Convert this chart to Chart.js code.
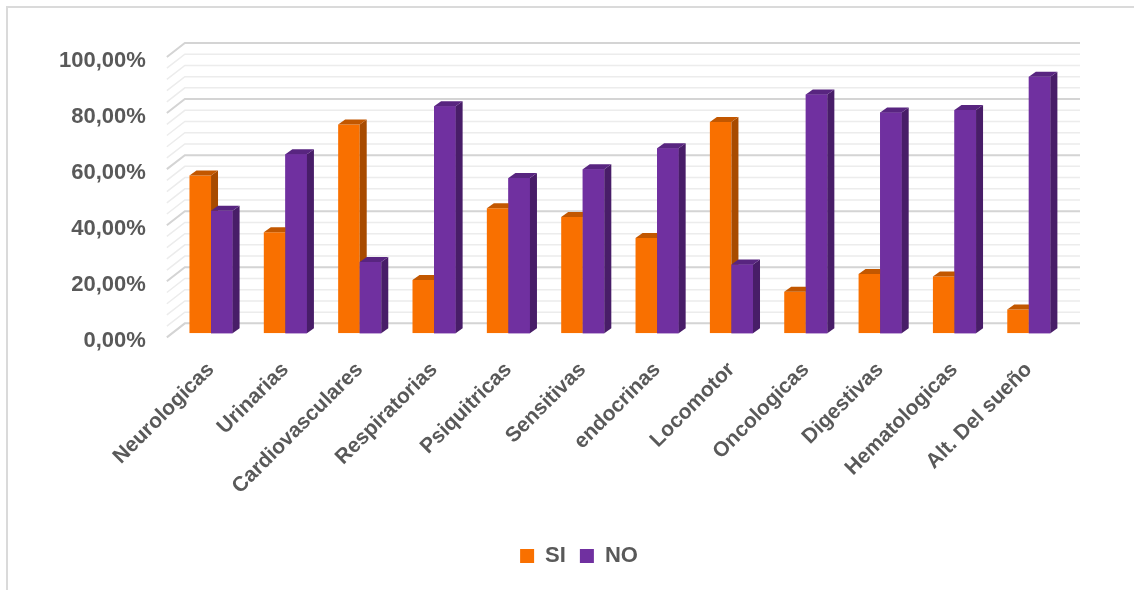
<!DOCTYPE html>
<html>
<head>
<meta charset="utf-8">
<script src="https://cdn.jsdelivr.net/npm/chart.js@4.4.1/dist/chart.umd.min.js"></script>
<style>
  html, body { margin: 0; padding: 0; background: #fff; }
  #wrap { position: relative; width: 1134px; height: 590px; }
  #frame {
    position: absolute; left: 6px; top: 6px; right: 0; bottom: 0;
    border-left: 2px solid #dadada; border-top: 2px solid #dadada;
    pointer-events: none;
  }
</style>
</head>
<body>
<div id="wrap">
  <canvas id="chart" width="1134" height="590"></canvas>
  <div id="frame"></div>
</div>
<script>
var categories = ["Neurologicas", "Urinarias", "Cardiovasculares", "Respiratorias", "Psiquitricas",
    "Sensitivas", "endocrinas", "Locomotor", "Oncologicas", "Digestivas", "Hematologicas", "Alt. Del sueño"];
var siValues = [56.3, 36.1, 74.5, 19.0, 44.6, 41.5, 34.0, 75.4, 14.8, 21.2, 20.3, 8.5];
var noValues = [43.7, 63.9, 25.5, 81.0, 55.4, 58.5, 66.0, 24.6, 85.2, 78.8, 79.7, 91.5];
var seriesNames = ["SI", "NO"];
var yMax = 100;
var majorStep = 20;
var minorStep = 4;

var textColor = "#595959";
var fontFamily = "Arial, 'Liberation Sans', sans-serif";

// front / side / top colours of each column
var faces = [
    { front: "#F97000", side: "#A84B00", top: "#C25700" },
    { front: "#7030A0", side: "#481D68", top: "#582580" }
];

// depth offsets for the fake 3D look
var barDepth = { dx: 7, dy: -5 };
var wallDepth = { dx: 18, dy: -14 };
var floorGap = 4; // bars sit a little behind the front edge of the floor
var legendCenterX = 579;

function pct(v) {
    return v.toFixed(2).replace(".", ",") + "%";
}

var excel3d = {
    id: "excel3d",
    afterLayout: function (chart) {
        // legend sits centred under the whole frame, not under the plot
        var lg = chart.legend;
        var shift = legendCenterX - (lg.left + lg.right) / 2;
        lg.left += shift;
        lg.right += shift;
    },
    beforeDatasetsDraw: function (chart) {
        var ctx = chart.ctx, y = chart.scales.y, area = chart.chartArea;
        var frontX = area.left - 7;
        var backX = frontX + wallDepth.dx;
        var backRight = area.right + 14;
        ctx.save();
        for (var v = 0; v <= yMax; v += minorStep) {
            var py = y.getPixelForValue(v) + floorGap;
            var major = v % majorStep === 0;
            ctx.strokeStyle = major ? "#d4d4d4" : "#ececec";
            ctx.lineWidth = major ? 2 : 1.5;
            ctx.beginPath();
            ctx.moveTo(frontX, py);
            ctx.lineTo(backX, py + wallDepth.dy);
            ctx.lineTo(backRight, py + wallDepth.dy);
            ctx.stroke();
        }
        ctx.restore();
    },
    afterDatasetsDraw: function (chart) {
        var ctx = chart.ctx;
        var metas = [chart.getDatasetMeta(0), chart.getDatasetMeta(1)];
        ctx.save();
        for (var i = 0; i < categories.length; i++) {
            for (var s = 0; s < metas.length; s++) {
                var p = metas[s].data[i].getProps(["x", "y", "base", "width"], true);
                var l = p.x - p.width / 2, r = p.x + p.width / 2;
                var c = faces[s];
                if (s > 0) {
                    // repaint the front so it hides the side of the column to its left
                    ctx.fillStyle = c.front;
                    ctx.fillRect(l, p.y, p.width, p.base - p.y);
                }
                ctx.fillStyle = c.side;
                ctx.beginPath();
                ctx.moveTo(r, p.y);
                ctx.lineTo(r + barDepth.dx, p.y + barDepth.dy);
                ctx.lineTo(r + barDepth.dx, p.base + barDepth.dy);
                ctx.lineTo(r, p.base);
                ctx.closePath();
                ctx.fill();
                ctx.fillStyle = c.top;
                ctx.beginPath();
                ctx.moveTo(l, p.y);
                ctx.lineTo(l + barDepth.dx, p.y + barDepth.dy);
                ctx.lineTo(r + barDepth.dx, p.y + barDepth.dy);
                ctx.lineTo(r, p.y);
                ctx.closePath();
                ctx.fill();
            }
        }
        ctx.restore();
    }
};

new Chart(document.getElementById("chart").getContext("2d"), {
    type: "bar",
    data: {
        labels: categories,
        datasets: [
            { label: seriesNames[0], data: siValues, backgroundColor: faces[0].front, borderWidth: 0 },
            { label: seriesNames[1], data: noValues, backgroundColor: faces[1].front, borderWidth: 0 }
        ]
    },
    options: {
        responsive: false,
        devicePixelRatio: 1,
        animation: false,
        events: [],
        layout: { padding: { left: 31, right: 68, top: 53, bottom: 13 } },
        datasets: { bar: { categoryPercentage: 0.58, barPercentage: 1.0 } },
        scales: {
            x: {
                grid: { display: false },
                border: { display: false },
                ticks: {
                    color: textColor,
                    font: { family: fontFamily, size: 21, weight: "bold" },
                    minRotation: 45,
                    maxRotation: 45,
                    autoSkip: false,
                    padding: 16
                },
                afterFit: function (scale) { scale.height += 16; }
            },
            y: {
                min: 0,
                max: yMax,
                grid: { display: false, drawTicks: false },
                border: { display: false },
                ticks: {
                    stepSize: majorStep,
                    color: textColor,
                    font: { family: fontFamily, size: 22, weight: "bold" },
                    padding: 28,
                    labelOffset: 8,
                    callback: function (v) { return pct(v); }
                }
            }
        },
        plugins: {
            legend: {
                position: "bottom",
                labels: {
                    color: textColor,
                    font: { family: fontFamily, size: 22, weight: "bold" },
                    boxWidth: 14,
                    boxHeight: 14,
                    padding: 14
                }
            },
            tooltip: { enabled: false }
        }
    },
    plugins: [excel3d]
});
</script>
</body>
</html>
